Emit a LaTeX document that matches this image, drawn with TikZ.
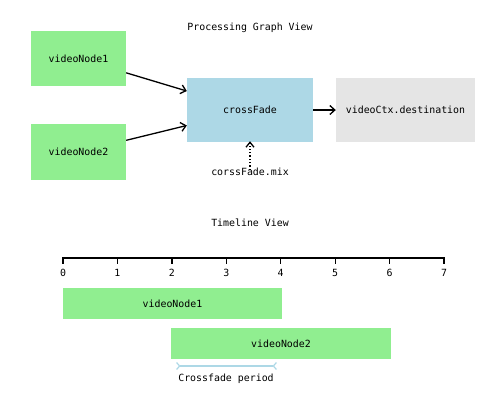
\documentclass[tikz,border=0pt]{standalone}
\usepackage{fontspec}
\setmonofont{DejaVu Sans Mono}
\usetikzlibrary{arrows.meta}
\definecolor{vgreen}{HTML}{90EE90}
\definecolor{vblue}{HTML}{ADD8E6}
\definecolor{vgray}{HTML}{E5E5E5}
\begin{document}
\begin{tikzpicture}[x=1pt,y=-1pt,
  every node/.style={font=\ttfamily\fontsize{9.9}{11}\selectfont, inner sep=0pt},
  box/.style={rectangle, inner sep=0pt},
  conn/.style={line width=1.3pt, -{Straight Barb[length=5pt,width=9pt]}},
  dotconn/.style={line width=1.3pt, dotted, -{Straight Barb[length=5pt,width=8pt]}},
  axis/.style={line width=1.3pt, line cap=rect}]
\useasboundingbox (0,0) rectangle (500,407);
% Processing graph view
\node (t1) at (250,28) {Processing Graph View};
\node[box, fill=vgreen, minimum width=95pt, minimum height=55pt] (v1) at (78.5,58.5) {videoNode1};
\node[box, fill=vgreen, minimum width=95pt, minimum height=56pt] (v2) at (78.5,152) {videoNode2};
\node[box, fill=vblue, minimum width=126pt, minimum height=64pt] (cf) at (250,110) {crossFade};
\node[box, fill=vgray, minimum width=139pt, minimum height=64pt] (dst) at (405.5,110) {videoCtx.destination};
\node (mix) at (250,172) {corssFade.mix};
\draw[conn] (v1) -- (cf);
\draw[conn] (v2) -- (cf);
\draw[conn] (cf) -- (dst);
\draw[dotconn] ([yshift=-2pt]mix.north) -- ([yshift=1pt]cf.south);
% Timeline view
\node (t2) at (250,223) {Timeline View};
\coordinate (a0) at (63,258);
\coordinate (a7) at (444,258);
\draw[axis] (a0) -- (a7);
\foreach \i in {0,...,7}{
  \coordinate (tk\i) at ({63+54.43*\i},258);
  \draw[line width=1.3pt] (tk\i) -- ++(0,6);
  \node (lb\i) at ({63+54.43*\i},273) {\i};
}
\node[box, fill=vgreen, minimum width=219pt, minimum height=31pt] (b1) at (172.5,303.5) {videoNode1};
\node[box, fill=vgreen, minimum width=220pt, minimum height=31pt] (b2) at (281,343.5) {videoNode2};
\coordinate (cs) at (176,366);
\coordinate (ce) at (277,366);
\draw[vblue, line width=1.2pt, {Straight Barb[reversed,length=3pt,width=7pt]}-{Straight Barb[reversed,length=3pt,width=7pt]}] (cs) -- (ce);
\node (cp) at (226,379) {Crossfade period};
\end{tikzpicture}
\end{document}
